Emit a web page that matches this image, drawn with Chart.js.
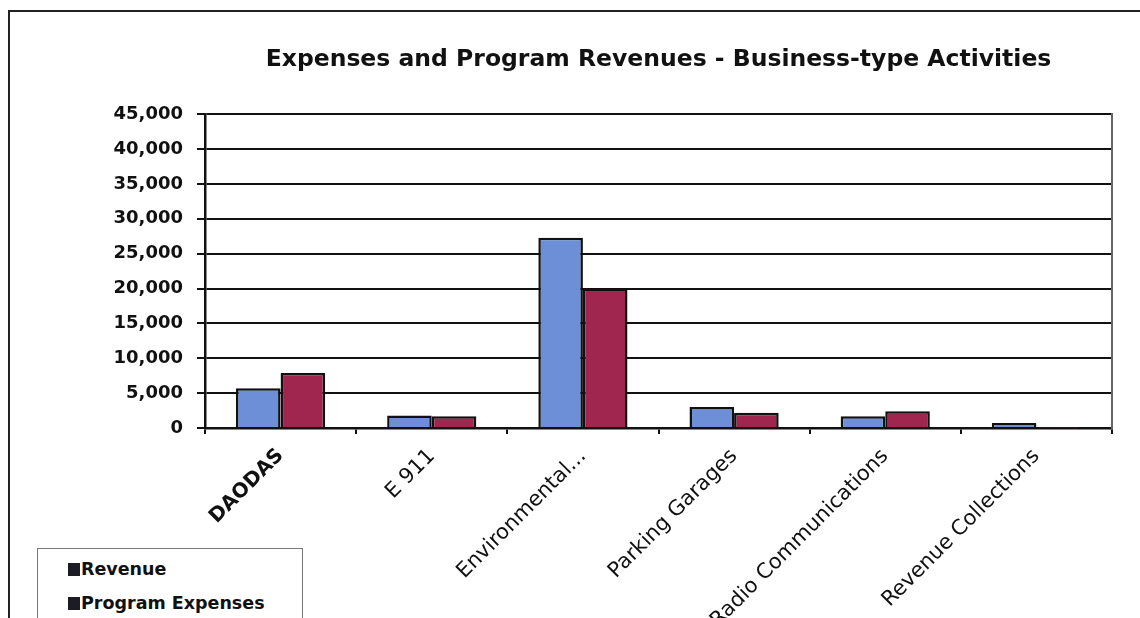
<!DOCTYPE html>
<html>
<head>
<meta charset="utf-8">
<title>Expenses and Program Revenues</title>
<script src="https://cdn.jsdelivr.net/npm/chart.js@4"></script>
<style>
  html, body { margin: 0; padding: 0; background: #fff; }
  #wrap { position: relative; width: 1140px; height: 618px; overflow: hidden; }
  #frame {
    position: absolute; left: 8px; top: 10px; width: 1300px; height: 700px;
    border-top: 2px solid #222; border-left: 2px solid #222; pointer-events: none;
  }
  #legend {
    position: absolute; left: 37px; top: 548px; width: 264px; height: 80px;
    border: 1px solid #777; background: #fff;
    font: bold 17.5px "DejaVu Sans", Arial, sans-serif; color: #111;
  }
  #legend div { position: absolute; left: 30px; white-space: nowrap; }
  #legend span { display: inline-block; width: 12px; height: 13px; margin-right: 1px; vertical-align: -1px; }
</style>
</head>
<body>
<div id="wrap">
  <canvas id="chart" width="1140" height="618"></canvas>
  <div id="frame"></div>
  <div id="legend"></div>
</div>
<script>
// categories and values (thousands of dollars)
const categories = ['DAODAS', 'E 911', 'Environmental...', 'Parking Garages', 'Radio Communications', 'Revenue Collections'];
const revenue = [5700, 1800, 27300, 3000, 1700, 700];
const programExpenses = [7900, 1700, 20000, 2200, 2400, 50];
const yTicks = [0, 5000, 10000, 15000, 20000, 25000, 30000, 35000, 40000, 45000];

const ctx = document.getElementById('chart');

const chart = new Chart(ctx, {
    type: 'bar',
    data: {
        labels: categories,
        datasets: [{
            label: 'Revenue',
            data: revenue,
            backgroundColor: '#6d8fd8',
            borderColor: '#111',
            borderWidth: 2.5,
            borderSkipped: 'bottom'
        }, {
            label: 'Program Expenses',
            data: programExpenses,
            backgroundColor: '#a1264f',
            borderColor: '#111',
            borderWidth: 2.5,
            borderSkipped: 'bottom'
        }]
    },
    options: {
        responsive: false,
        animation: false,
        layout: { padding: { left: 0, right: 28, top: 0, bottom: 0 } },
        datasets: {
            bar: { categoryPercentage: 0.59, barPercentage: 1 }
        },
        plugins: {
            legend: { display: false },
            tooltip: { enabled: false },
            title: {
                display: true,
                fullSize: false,
                text: 'Expenses and Program Revenues - Business-type Activities',
                color: '#111',
                font: { family: 'DejaVu Sans', size: 23.5, weight: 'bold', lineHeight: 1.2 },
                padding: { top: 46, bottom: 40 }
            }
        },
        scales: {
            x: {
                grid: {
                    offset: true,
                    drawOnChartArea: false,
                    color: '#111',
                    lineWidth: 2,
                    tickLength: 6
                },
                border: { color: '#111', width: 2.5 },
                ticks: {
                    autoSkip: false,
                    minRotation: 45,
                    maxRotation: 45,
                    padding: 10,
                    color: '#111',
                    font: c => c.index === 0
                        ? { family: 'DejaVu Sans', size: 20, weight: 'bold' }
                        : { family: 'DejaVu Sans', size: 21, weight: 'normal' }
                },
                afterFit: scale => { scale.height = 190; }
            },
            y: {
                min: 0,
                max: 45000,
                afterBuildTicks: scale => { scale.ticks = yTicks.map(v => ({ value: v })); },
                grid: { color: '#111', lineWidth: 2, tickLength: 8 },
                border: { color: '#111', width: 2.5 },
                ticks: {
                    padding: 14,
                    color: '#111',
                    font: { family: 'DejaVu Sans', size: 18, weight: 'bold' },
                    callback: v => v.toLocaleString('en-US')
                },
                afterFit: scale => { scale.width = 205; }
            },
            yRight: {
                position: 'right',
                min: 0,
                max: 45000,
                grid: { display: false },
                ticks: { display: false },
                border: { display: true, color: '#666', width: 2 },
                afterFit: scale => { scale.width = 0; }
            }
        }
    }
});

// legend built from the chart's own datasets
const legendDiv = document.getElementById('legend');
chart.data.datasets.forEach((ds, i) => {
    const row = document.createElement('div');
    row.style.top = (i === 0 ? 10 : 44) + 'px';
    row.innerHTML = '<span style="background:#1c1c24"></span>' + ds.label;
    legendDiv.appendChild(row);
});
</script>
</body>
</html>
